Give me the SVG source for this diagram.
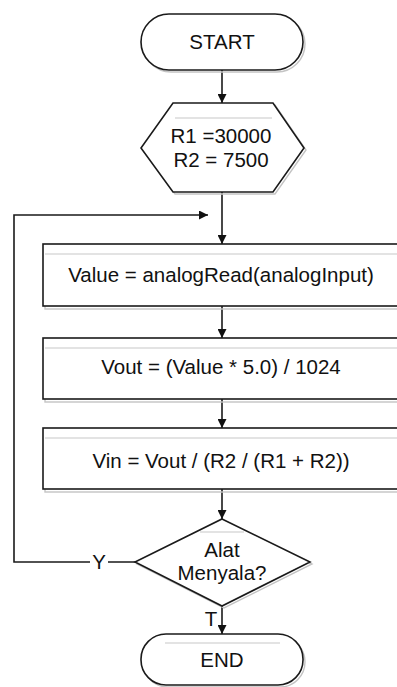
<svg xmlns="http://www.w3.org/2000/svg" width="397" height="687" viewBox="0 0 397 687">
  <style>
    .shape { fill: #fff; stroke: #1a1a1a; stroke-width: 1.6; }
    .shadow { fill: none; stroke: #c4c4c4; stroke-width: 1.4; }
    .hl { stroke: #c8c8c8; stroke-width: 1.2; fill: none; }
    .line { stroke: #1a1a1a; stroke-width: 1.6; fill: none; }
    .label { font-family: "Liberation Sans", Arial, sans-serif; font-size: 20.5px; fill: #111; text-anchor: middle; }
  </style>
  <defs>
    <marker id="arrow" viewBox="0 0 10 10" refX="10" refY="5" markerWidth="10" markerHeight="9" markerUnits="userSpaceOnUse" orient="auto">
      <path d="M0,0 L10,5 L0,10 Z" fill="#111"/>
    </marker>
  </defs>

  <!-- connectors -->
  <g id="connectors">
    <line class="line" x1="222" y1="70" x2="222" y2="103" marker-end="url(#arrow)"/>
    <line class="line" x1="222" y1="192" x2="222" y2="244" marker-end="url(#arrow)"/>
    <polyline class="line" points="135,562 14,562 14,215 208,215" marker-end="url(#arrow)"/>
    <line class="line" x1="222" y1="306" x2="222" y2="338" marker-end="url(#arrow)"/>
    <line class="line" x1="222" y1="399" x2="222" y2="428" marker-end="url(#arrow)"/>
    <line class="line" x1="222" y1="489" x2="222" y2="519" marker-end="url(#arrow)"/>
    <line class="line" x1="222" y1="606" x2="222" y2="634" marker-end="url(#arrow)"/>
    <rect x="90" y="552" width="18" height="20" fill="#fff"/>
    <text class="label" x="99" y="569">Y</text>
    <text class="label" x="211" y="626">T</text>
  </g>

  <!-- start terminator -->
  <g id="start">
    <rect class="shadow" x="143" y="16" width="162" height="56" rx="28"/>
    <rect class="shape" x="141" y="14" width="162" height="56" rx="28"/>
    <text class="label" x="222" y="49">START</text>
  </g>

  <!-- initialisation hexagon -->
  <g id="init">
    <polygon class="shadow" points="175,105 275,105 306,150 275,194 175,194 143,150"/>
    <polygon class="shape" points="173,103 273,103 304,148 273,192 173,192 141,148"/>
    <line class="hl" x1="175" y1="118" x2="272" y2="118"/>
    <text class="label" x="221" y="143">R1 =30000</text>
    <text class="label" x="221" y="167">R2 = 7500</text>
  </g>

  <!-- read analog input -->
  <g id="read">
    <rect class="shadow" x="45" y="247" width="360" height="62"/>
    <rect class="shape" x="43" y="244" width="360" height="62"/>
    <line class="hl" x1="45" y1="254" x2="400" y2="254"/>
    <text class="label" x="221" y="282">Value = analogRead(analogInput)</text>
  </g>

  <!-- compute output voltage -->
  <g id="vout">
    <rect class="shadow" x="45" y="341" width="360" height="61"/>
    <rect class="shape" x="43" y="338" width="360" height="61"/>
    <line class="hl" x1="45" y1="348" x2="400" y2="348"/>
    <text class="label" x="221" y="374">Vout = (Value * 5.0) / 1024</text>
  </g>

  <!-- compute input voltage -->
  <g id="vin">
    <rect class="shadow" x="45" y="431" width="360" height="61"/>
    <rect class="shape" x="43" y="428" width="360" height="61"/>
    <line class="hl" x1="45" y1="438" x2="400" y2="438"/>
    <text class="label" x="221" y="468">Vin = Vout / (R2 / (R1 + R2))</text>
  </g>

  <!-- decision -->
  <g id="decision">
    <polygon class="shadow" points="224,521 312,564 224,608 137,564"/>
    <polygon class="shape" points="222,519 310,562 222,606 135,562"/>
    <line class="hl" x1="200" y1="532" x2="244" y2="532"/>
    <text class="label" x="222" y="557">Alat</text>
    <text class="label" x="222" y="580">Menyala?</text>
  </g>

  <!-- end terminator -->
  <g id="end">
    <rect class="shadow" x="143" y="637" width="162" height="50" rx="25"/>
    <rect class="shape" x="141" y="634" width="162" height="51" rx="25"/>
    <line class="hl" x1="165" y1="643" x2="280" y2="643"/>
    <text class="label" x="222" y="667">END</text>
  </g>
</svg>
